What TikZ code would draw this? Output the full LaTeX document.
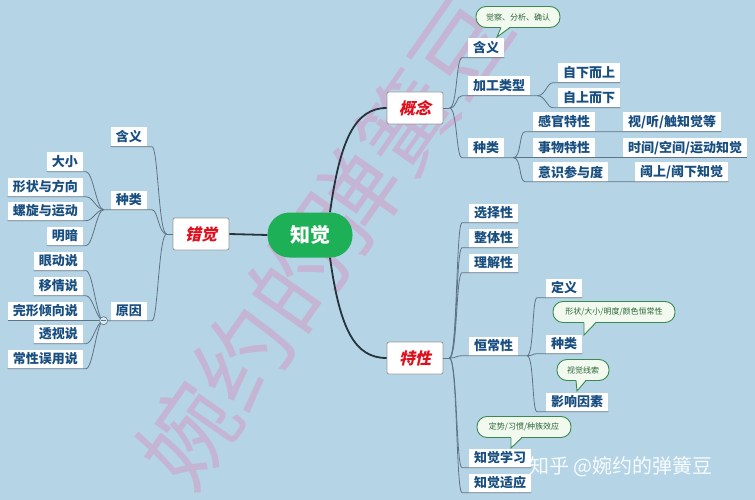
\documentclass[tikz,border=0pt]{standalone}
\usepackage{fontspec}
\setmainfont{Noto Sans CJK SC}
\newfontfamily\slantcjk{Noto Sans CJK SC}[FakeSlant=0.22]
\usetikzlibrary{calc}
\definecolor{bg}{RGB}{181,213,230}
\definecolor{txtblue}{RGB}{24,78,128}
\definecolor{lineg}{RGB}{95,115,130}
\definecolor{maind}{RGB}{38,50,60}
\definecolor{redt}{RGB}{222,16,30}
\definecolor{zgreen}{RGB}{30,176,86}
\definecolor{cfill}{RGB}{242,250,240}
\definecolor{cborder}{RGB}{58,138,80}
\definecolor{ctext}{RGB}{40,100,52}
\definecolor{wpink}{RGB}{214,150,195}
\tikzset{
 topic/.style={fill=white, text=txtblue, font=\bfseries\fontsize{13}{13}\selectfont, inner xsep=5pt, inner ysep=0pt, minimum height=19pt},
 mainbox/.style={fill=white, draw=gray!80, rounded corners=2pt, text=redt, font=\slantcjk\bfseries\fontsize{16}{16}\selectfont, minimum width=56pt, minimum height=32pt, line width=0.8pt},
 core/.style={fill=zgreen, text=white, rounded corners=22pt, minimum width=85pt, minimum height=45pt, font=\bfseries\fontsize{20}{20}\selectfont},
 callbox/.style={fill=cfill, draw=cborder, line width=0.9pt, rounded corners=10pt, text=ctext, font=\fontsize{8}{8}\selectfont, inner sep=0pt, minimum height=21pt},
 thinline/.style={draw=lineg, line width=0.8pt},
 thickline/.style={draw=maind, line width=1.8pt},
 ptrfill/.style={fill=cfill},
 ptrdraw/.style={draw=cborder, line width=0.9pt},
}
\begin{document}
\begin{tikzpicture}[x=1pt,y=-1pt]
\fill[bg] (0,0) rectangle (755,500);
\useasboundingbox (0,0) rectangle (755,500);
% watermark
\node[rotate=55, text=wpink, opacity=0.5, font=\fontsize{95}{95}\selectfont] (wm) at (325,240) {婉约的弹簧豆};

% core nodes
\node[core] (zj) at (310,235) {知觉};
\node[mainbox] (cj) at (201,234) {错觉};
\node[mainbox] (gn) at (415,108) {概念};
\node[mainbox] (tx) at (415,358) {特性};

% 概念 branch
\node[topic, anchor=west] (g1) at (468,48) {含义};
\node[topic, anchor=west] (g2) at (468,86) {加工类型};
\node[topic, anchor=west] (g21) at (558,73) {自下而上};
\node[topic, anchor=west] (g22) at (558,98) {自上而下};
\node[topic, anchor=west] (g3) at (468,148) {种类};
\node[topic, anchor=west] (g31) at (533,122) {感官特性};
\node[topic, anchor=west] (g311) at (623,122) {视/听/触知觉等};
\node[topic, anchor=west] (g32) at (533,148) {事物特性};
\node[topic, anchor=west] (g321) at (623,148) {时间/空间/运动知觉};
\node[topic, anchor=west] (g33) at (533,172) {意识参与度};
\node[topic, anchor=west] (g331) at (635,172) {阈上/阈下知觉};

% 特性 branch
\node[topic, anchor=west] (t1) at (469,213) {选择性};
\node[topic, anchor=west] (t2) at (469,238) {整体性};
\node[topic, anchor=west] (t3) at (469,263) {理解性};
\node[topic, anchor=west] (t4) at (469,346) {恒常性};
\node[topic, anchor=west] (t41) at (546,288) {定义};
\node[topic, anchor=west] (t42) at (546,344) {种类};
\node[topic, anchor=west] (t43) at (546,402) {影响因素};
\node[topic, anchor=west] (t5) at (469,458) {知觉学习};
\node[topic, anchor=west] (t6) at (469,483) {知觉适应};

% 错觉 branch
\node[topic, anchor=east] (l1) at (147,137) {含义};
\node[topic, anchor=east] (l2) at (147,200) {种类};
\node[topic, anchor=east] (l3) at (147,311) {原因};
\node[topic, anchor=east] (l21) at (83,162) {大小};
\node[topic, anchor=east] (l22) at (83,187) {形状与方向};
\node[topic, anchor=east] (l23) at (83,211) {螺旋与运动};
\node[topic, anchor=east] (l24) at (83,236) {明暗};
\node[topic, anchor=east] (l31) at (83,261) {眼动说};
\node[topic, anchor=east] (l32) at (83,286) {移情说};
\node[topic, anchor=east] (l33) at (83,311) {完形倾向说};
\node[topic, anchor=east] (l34) at (83,334) {透视说};
\node[topic, anchor=east] (l35) at (83,359) {常性误用说};

% main connectors
\draw[thickline] (zj.west) -- (cj.east);
\coordinate (zjn) at ($(zj.north)+(20,0)$);
\coordinate (zjs) at ($(zj.south)+(20,0)$);
\draw[thickline] (zjn) .. controls (340,140) and (355,108) .. (gn.west);
\draw[thickline] (zjs) .. controls (340,330) and (355,358) .. (tx.west);

% 概念 connectors
\coordinate (gnj) at ($(gn.east)+(6,0)$);
\draw[thinline] (gn.east) -- (gnj);
\draw[thinline] (gnj) .. controls +(8,0) and +(-6,0) .. ($(g1.south west)+(-6,0)$) -- (g1.south east);
\coordinate (g2j) at ($(g2.south east)+(7,0)$);
\draw[thinline] (gnj) .. controls +(8,0) and +(-6,0) .. ($(g2.south west)+(-6,0)$) -- (g2j);
\draw[thinline] (g2j) .. controls +(8,0) and +(-6,0) .. ($(g21.south west)+(-5,0)$) -- (g21.south east);
\draw[thinline] (g2j) .. controls +(8,0) and +(-6,0) .. ($(g22.south west)+(-5,0)$) -- (g22.south east);
\coordinate (g3j) at ($(g3.south east)+(9,0)$);
\draw[thinline] (gnj) .. controls +(8,0) and +(-6,0) .. ($(g3.south west)+(-6,0)$) -- (g3j);
\draw[thinline] (g3j) .. controls +(8,0) and +(-6,0) .. ($(g31.south west)+(-8,0)$) -- (g311.south east);
\draw[thinline] (g3j) -- ($(g32.south west)+(-8,0)$) -- (g321.south east);
\draw[thinline] (g3j) .. controls +(8,0) and +(-6,0) .. ($(g33.south west)+(-8,0)$) -- (g331.south east);

% 特性 connectors
\coordinate (txj) at ($(tx.east)+(6,0)$);
\draw[thinline] (tx.east) -- (txj);
\foreach \n in {t1,t2,t3,t5,t6}{
  \draw[thinline] (txj) .. controls +(8,0) and +(-6,0) .. ($(\n.south west)+(-7,0)$) -- (\n.south east);
}
\coordinate (t4j) at ($(t4.south west)+(58,0)$);
\draw[thinline] (txj) .. controls +(8,0) and +(-6,0) .. ($(t4.south west)+(-7,0)$) -- (t4j);
\foreach \n in {t41,t42,t43}{
  \draw[thinline] (t4j) .. controls +(7,0) and +(-5,0) .. ($(\n.south west)+(-9,0)$) -- (\n.south east);
}

% 错觉 connectors
\coordinate (cjj) at ($(cj.west)+(-6,0)$);
\draw[thinline] (cj.west) -- (cjj);
\draw[thinline] (l1.south west) -- ($(l1.south east)+(5,0)$) .. controls +(6,0) and +(-8,0) .. (cjj);
\coordinate (kj) at ($(l2.south west)+(-7,0)$);
\draw[thinline] (kj) -- ($(l2.south east)+(5,0)$) .. controls +(6,0) and +(-8,0) .. (cjj);
\coordinate (yj) at ($(l3.south west)+(-7,0)$);
\draw[thinline] (yj) -- ($(l3.south east)+(5,0)$) .. controls +(6,0) and +(-8,0) .. (cjj);
\foreach \n in {l21,l22,l23,l24}{
  \draw[thinline] (\n.south west) -- ($(\n.south east)+(3,0)$) .. controls +(7,0) and +(-7,0) .. (kj);
}
\foreach \n in {l31,l32,l33,l34,l35}{
  \draw[thinline] (\n.south west) -- ($(\n.south east)+(3,0)$) .. controls +(7,0) and +(-7,0) .. (yj);
}
\node[circle, fill=bg!50!white, draw=lineg, line width=0.6pt, minimum size=8pt, inner sep=0pt] (yc) at (yj) {};
\draw[lineg, line width=0.6pt] ($(yc.center)+(-2.2,0)$) -- ($(yc.center)+(2.2,0)$);

% callouts
\node[callbox, minimum width=84pt] (c1) at (518,17) {觉察、分析、确认};
\coordinate (c1t) at (497,37);
\fill[ptrfill] ($(c1.south)+(-17,-1.2)$) -- (c1t) -- ($(c1.south)+(-8,-1.2)$) -- cycle;
\draw[ptrdraw] ($(c1.south)+(-17,-0.45)$) -- (c1t) -- ($(c1.south)+(-8,-0.45)$);

\node[callbox, minimum width=122pt] (c2) at (614,312) {形状/大小/明度/颜色恒常性};
\coordinate (c2t) at (584,335);
\fill[ptrfill] ($(c2.south)+(-30,-1.2)$) -- (c2t) -- ($(c2.south)+(-18,-1.2)$) -- cycle;
\draw[ptrdraw] ($(c2.south)+(-30,-0.45)$) -- (c2t) -- ($(c2.south)+(-18,-0.45)$);

\node[callbox, minimum width=52pt] (c3) at (583,370) {视觉线索};
\coordinate (c3t) at (577,391);
\fill[ptrfill] ($(c3.south)+(-7,-1.2)$) -- (c3t) -- ($(c3.south)+(3,-1.2)$) -- cycle;
\draw[ptrdraw] ($(c3.south)+(-7,-0.45)$) -- (c3t) -- ($(c3.south)+(3,-0.45)$);

\node[callbox, minimum width=94pt] (c4) at (524,427) {定势/习惯/种族效应};
\coordinate (c4t) at (511,448);
\fill[ptrfill] ($(c4.south)+(-13,-1.2)$) -- (c4t) -- ($(c4.south)+(-2,-1.2)$) -- cycle;
\draw[ptrdraw] ($(c4.south)+(-13,-0.45)$) -- (c4t) -- ($(c4.south)+(-2,-0.45)$);

% bottom-right watermark
\node[text=white, opacity=0.9, font=\fontsize{20}{20}\selectfont, anchor=west, inner sep=0pt] (zh) at (529,467) {知乎 @婉约的弹簧豆};
\end{tikzpicture}
\end{document}
